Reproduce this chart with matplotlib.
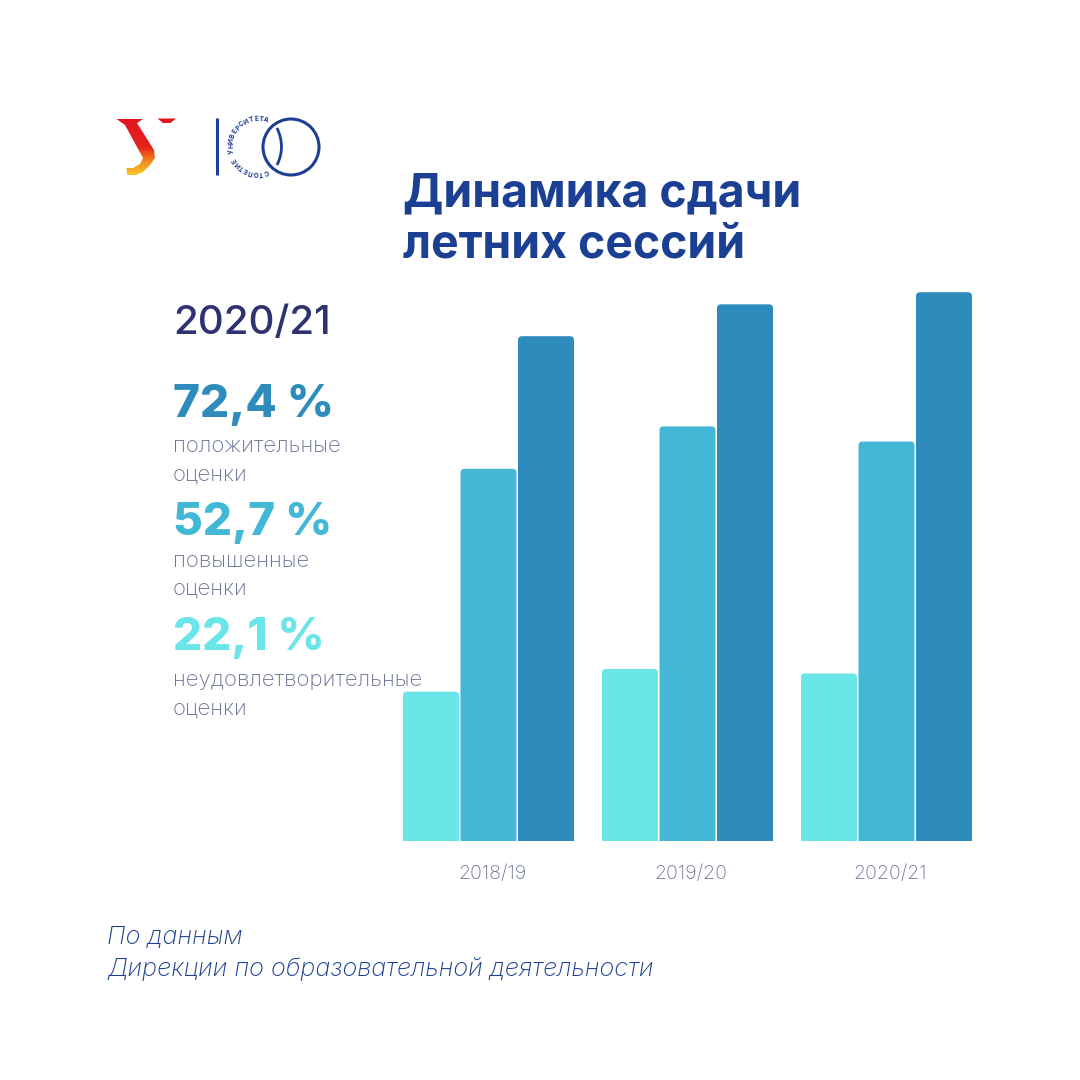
import numpy as np
import matplotlib
matplotlib.use('Agg')
import matplotlib.pyplot as plt
from matplotlib.patches import FancyBboxPatch, PathPatch, Polygon, Circle
from matplotlib.path import Path
from matplotlib.transforms import ScaledTranslation

plt.rcParams['font.family'] = ['Inter', 'DejaVu Sans']

years = ['2018/19', '2019/20', '2020/21']
failed = [19.7, 22.7, 22.1]
higher = [49.1, 54.7, 52.7]
positive = [66.6, 70.8, 72.4]
series_colors = ['#6AE6E8', '#42B8D6', '#2D8CBC']

NAVY = '#1B3F92'
DARK = '#2F3270'
GREY = '#6C7495'

S = 1080


def put(x, y, s, size, color, weight='normal', **kw):
    over.text(x, y, s, fontsize=size, color=color, fontweight=weight, va='center', **kw)


fig = plt.figure(figsize=(10.8, 10.8), dpi=100, facecolor='white')

# overlay in pixel coords for the text and the logos
over = fig.add_axes([0, 0, 1, 1])
over.axis('off')

# bars, 1 group = 199 px, 1 % = 7.58 px
ax = fig.add_axes([403 / S, (S - 841) / S, 569 / S, 560 / S])
ax.patch.set_alpha(0)
group_w = 199.0
bar_w = 56 / group_w
pitch = 57.5 / group_w
ax.set_xlim(-28 / group_w - pitch, 28 / group_w + pitch + 2)
ax.set_ylim(0, 560 / 7.58)
px_per_x = group_w
px_per_y = 7.58

for i, vals in enumerate([failed, higher, positive]):
    for g, v in enumerate(vals):
        left = g + (i - 1) * pitch - bar_w / 2
        p = FancyBboxPatch((left, -2), bar_w, v + 2,
                           boxstyle='round,pad=0,rounding_size=%f' % (4 / px_per_x),
                           mutation_aspect=px_per_x / px_per_y,
                           fc=series_colors[i], ec='none')
        ax.add_patch(p)

ax.set_xticks(range(3))
ax.set_xticklabels(years, fontsize=14, color=GREY, fontweight='light')
ax.tick_params(axis='x', length=0, pad=17)
ax.set_yticks([])
# labels sit a little right of the group centre in the reference
shift = ScaledTranslation(3.5 / 100, 0, fig.dpi_scale_trans)
for lab in ax.get_xticklabels():
    lab.set_transform(lab.get_transform() + shift)
for sp in ax.spines.values():
    sp.set_visible(False)

# title
put(403, 194, 'Динамика сдачи', 33.4, NAVY, 'bold')
put(403, 245, 'летних сессий', 33.4, NAVY, 'bold')

# left column
put(173, 323, '2020/21', 29, DARK, 'medium')
put(173, 405, '72,4 %', 33, series_colors[2], 'heavy')
put(173, 446, 'положительные', 16, GREY, 'light')
put(173, 474, 'оценки', 16, GREY, 'light')
put(173, 523, '52,7 %', 33, series_colors[1], 'heavy')
put(173, 561, 'повышенные', 16, GREY, 'light')
put(173, 589, 'оценки', 16, GREY, 'light')
put(173, 638, '22,1 %', 33, series_colors[0], 'heavy')
put(173, 680, 'неудовлетворительные', 16, GREY, 'light')
put(173, 709, 'оценки', 16, GREY, 'light')

# source
put(107, 937, 'По данным', 18.2, NAVY, 'light', style='italic')
put(107, 969, 'Дирекции по образовательной деятельности', 18.2, NAVY, 'light', style='italic')

# logo: the red letter
shape = Polygon([(116.5, 119), (143, 119), (137, 123), (154, 150), (155, 158), (150, 165),
                 (143, 172), (136, 175), (127, 175), (126.5, 168), (133, 168), (140, 164),
                 (143, 158), (125, 125)],
                closed=True, fc='none', ec='none')
over.add_patch(shape)
grad = np.linspace(0, 1, 64).reshape(-1, 1)
cmap = matplotlib.colors.LinearSegmentedColormap.from_list(
    'logo', [(0, '#E3141F'), (0.5, '#E5231C'), (0.75, '#F08A1D'), (1, '#FBCB2A')])
im = over.imshow(grad, extent=(110, 160, 176, 118), cmap=cmap, aspect='auto', zorder=2)
im.set_clip_path(shape)
over.add_patch(Polygon([(157.5, 118.5), (176, 118.5), (170.5, 123), (163, 123)],
                       closed=True, fc='#E3141F', ec='none'))
over.set_xlim(0, S)
over.set_ylim(S, 0)

# logo: the 100 mark
over.plot([216.5, 216.5], [118, 175], color=NAVY, lw=2.2, solid_capstyle='butt')
over.add_patch(Circle((291, 147), 28, fc='none', ec=NAVY, lw=2.2))
arc = Path([(277, 128), (286, 147), (277, 165)], [Path.MOVETO, Path.CURVE3, Path.CURVE3])
over.add_patch(PathPatch(arc, fc='none', ec=NAVY, lw=2))

# ring text around the 100 mark, clockwise from bottom right to top right
ring = 'СТОЛЕТИЕ УНИВЕРСИТЕТА'
angles = np.linspace(-73, -287, len(ring))
for ch, a in zip(ring, angles):
    t = np.radians(a)
    x = 258 + 27 * np.cos(t)
    y = 146 - 27 * np.sin(t)
    over.text(x, y, ch, fontsize=4.8, color=NAVY, fontweight='bold', ha='center', va='center',
              rotation=a - 90, rotation_mode='anchor')

fig.savefig('out.png', dpi=100)
